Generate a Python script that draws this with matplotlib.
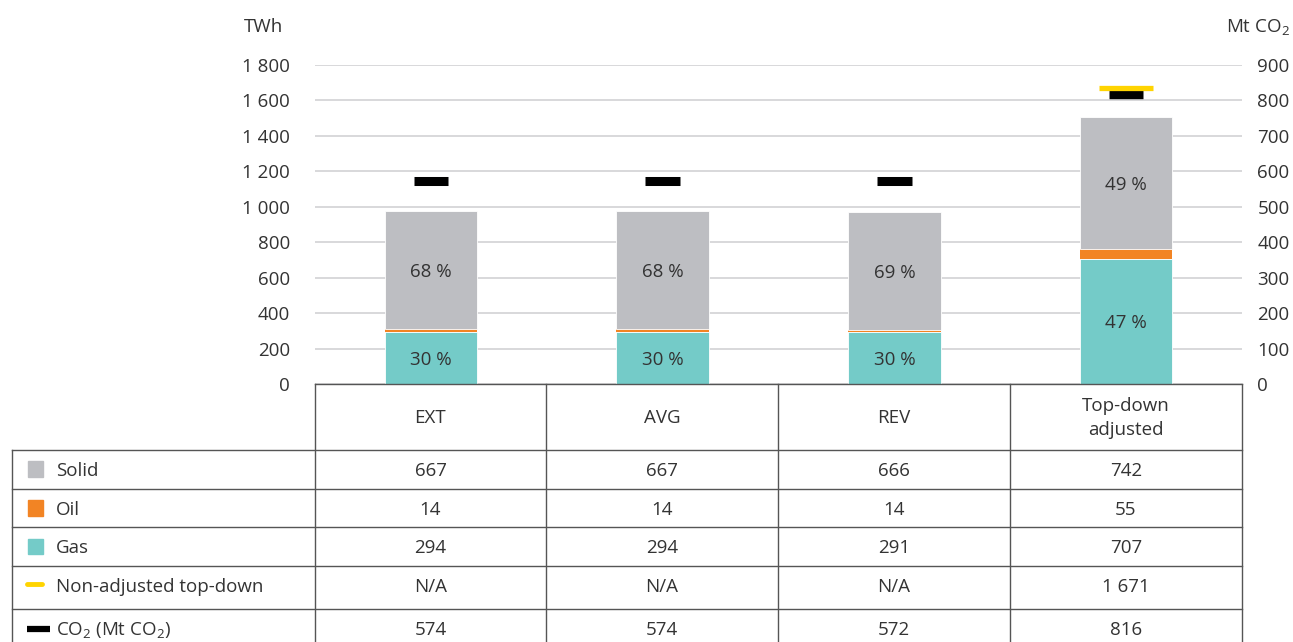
import matplotlib
matplotlib.use('Agg')
import matplotlib.pyplot as plt
from matplotlib.ticker import FuncFormatter, MultipleLocator
from matplotlib.lines import Line2D
from matplotlib.patches import Rectangle

plt.rcParams['font.family'] = ['Open Sans', 'DejaVu Sans']
plt.rcParams['mathtext.fontset'] = 'custom'
plt.rcParams['mathtext.rm'] = 'Open Sans'

# data (TWh, CO2 in Mt)
cases = ['EXT', 'AVG', 'REV', 'Top-down\nadjusted']
solid = [667, 667, 666, 742]
oil = [14, 14, 14, 55]
gas = [294, 294, 291, 707]
non_adjusted = [None, None, None, 1671]
co2 = [574, 574, 572, 816]

c_solid = '#bdbec2'
c_oil = '#f28424'
c_gas = '#74cbc8'
c_yellow = '#ffd400'
txt = '#333333'
fs = 13.5

W, H = 1293, 642
fig = plt.figure(figsize=(W / 100, H / 100), dpi=100)

def fx(x):
    return x / W

def fy(y):
    return 1 - y / H

left, right, top, bottom = 315, 1242, 65, 384
ax = fig.add_axes([fx(left), fy(bottom), fx(right - left), fy(top) - fy(bottom)])
ax2 = ax.twinx()
ax.set_zorder(ax2.get_zorder() + 1)
ax.patch.set_visible(False)

x = list(range(len(cases)))
bw = 0.4
base_oil = gas
base_solid = [g + o for g, o in zip(gas, oil)]
ax.bar(x, gas, bw, color=c_gas, edgecolor='white', linewidth=0.6, zorder=3)
ax.bar(x, oil, bw, bottom=base_oil, color=c_oil, linewidth=0, zorder=3)
ax.bar(x, solid, bw, bottom=base_solid, color=c_solid, edgecolor='white', linewidth=0.6, zorder=3)

for i in x:
    total = solid[i] + oil[i] + gas[i]
    ax.text(i, gas[i] / 2, '%d %%' % round(gas[i] / total * 100), ha='center',
            va='center_baseline', fontsize=fs, color=txt, zorder=4)
    ax.text(i, base_solid[i] + solid[i] / 2, '%d %%' % round(solid[i] / total * 100),
            ha='center', va='center_baseline', fontsize=fs, color=txt, zorder=4)
    if non_adjusted[i] is not None:
        ax.hlines(non_adjusted[i], i - 0.117, i + 0.117, color=c_yellow, linewidth=3.8, zorder=5)

ax2.hlines(co2, [i - 0.074 for i in x], [i + 0.074 for i in x], color='black', linewidth=6.5, zorder=4)

ax.set_xlim(-0.5, len(cases) - 0.5)
ax.set_ylim(0, 1800)
ax2.set_ylim(0, 900)
ax.yaxis.set_major_locator(MultipleLocator(200))
ax2.yaxis.set_major_locator(MultipleLocator(100))
fmt = FuncFormatter(lambda v, p: '{:,.0f}'.format(v).replace(',', ' '))
ax.yaxis.set_major_formatter(fmt)
ax2.yaxis.set_major_formatter(fmt)
ax.grid(axis='y', color='#d2d2d4', linewidth=1.2, zorder=0)
ax.set_axisbelow(True)
ax.set_xticks([])
for a in (ax, ax2):
    for s in a.spines.values():
        s.set_visible(False)
ax.tick_params(axis='y', length=0, pad=18, labelsize=fs, labelcolor=txt)
ax2.tick_params(axis='y', length=0, pad=11, labelsize=fs, labelcolor=txt)

fig.text(fx(264), fy(25), 'TWh', ha='center', va='center_baseline', fontsize=fs, color=txt)
fig.text(fx(1290), fy(25), 'Mt CO$_2$', ha='right', va='center_baseline', fontsize=fs, color=txt)

# table below the chart
lc = '#555555'
lw = 1.0
col_edges = [315, 546, 778, 1010, 1242]
row_lines = [450, 489, 527, 566, 609]
fig.add_artist(Line2D([fx(315), fx(1242)], [fy(384), fy(384)], color=lc, lw=lw))
for yy in row_lines:
    fig.add_artist(Line2D([fx(12), fx(1242)], [fy(yy), fy(yy)], color=lc, lw=lw))
for xx in col_edges:
    fig.add_artist(Line2D([fx(xx), fx(xx)], [fy(384), fy(642)], color=lc, lw=lw))
fig.add_artist(Line2D([fx(12), fx(12)], [fy(450), fy(642)], color=lc, lw=lw))

centers = [(col_edges[i] + col_edges[i + 1]) / 2 for i in range(len(cases))]
for cx, name in zip(centers, cases):
    fig.text(fx(cx), fy(418), name, ha='center', va='center', fontsize=fs, color=txt,
             linespacing=1.45)

row_y = [469, 508, 546, 585, 628]
row_names = ['Solid', 'Oil', 'Gas', 'Non-adjusted top-down', 'CO$_2$ (Mt CO$_2$)']

def fmt_val(v):
    if v is None:
        return 'N/A'
    return '{:,.0f}'.format(v).replace(',', ' ')

rows = [solid, oil, gas, non_adjusted, co2]
for yy, name, vals in zip(row_y, row_names, rows):
    fig.text(fx(56), fy(yy), name, ha='left', va='center_baseline', fontsize=fs, color=txt)
    for cx, v in zip(centers, vals):
        fig.text(fx(cx), fy(yy), fmt_val(v), ha='center', va='center_baseline',
                 fontsize=fs, color=txt)

# legend keys in the first column
for yy, c in zip(row_y[:3], [c_solid, c_oil, c_gas]):
    fig.add_artist(Rectangle((fx(28), fy(yy + 7.5)), fx(15), fy(yy - 7.5) - fy(yy + 7.5),
                             color=c, transform=fig.transFigure))
fig.add_artist(Line2D([fx(27), fx(42)], [fy(584), fy(584)], color=c_yellow, lw=3.5,
                      solid_capstyle='round'))
fig.add_artist(Line2D([fx(27), fx(50)], [fy(629), fy(629)], color='black', lw=4.5,
                      solid_capstyle='butt'))

fig.savefig('out.png', dpi=100)
